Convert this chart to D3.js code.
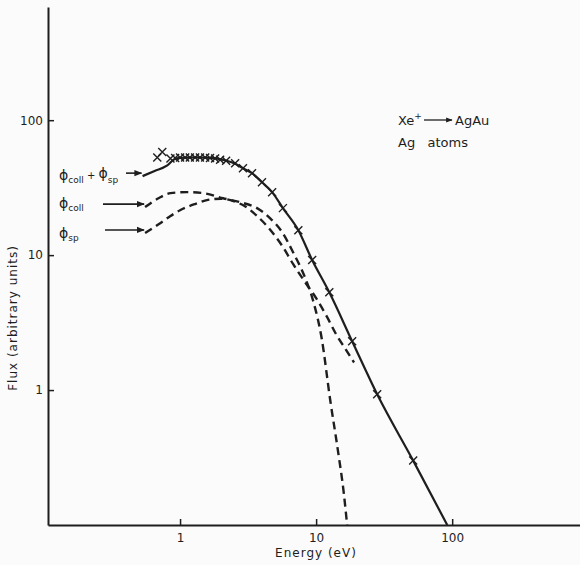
<!DOCTYPE html>
<html>
<head>
<meta charset="utf-8">
<script src="https://cdn.jsdelivr.net/npm/d3@7"></script>
<style>
  body { margin: 0; background: #fbfbfb; }
  text { font-family: "DejaVu Sans", sans-serif; fill: #1e1e1e; }
</style>
</head>
<body>
<div id="chart"></div>
<script>
// Total flux (solid line)
const totalE = [0.53, 0.65, 0.8, 0.9, 1.0, 1.3, 1.7, 2.2, 2.54, 2.9, 3.38, 4.0, 4.75, 5.7, 7.4, 9.35, 12.5, 18.4, 28.1, 51.7, 92];
const totalF = [38.5, 42, 46, 51, 52.5, 53, 52.5, 50, 47.5, 44, 40.5, 34.7, 29.3, 22.3, 15.3, 9.2, 5.3, 2.3, 0.93, 0.30, 0.1];

// Measured points (crosses)
const crossE = [0.68, 0.74, 0.85, 0.92, 1.0, 1.09, 1.18, 1.29, 1.40, 1.53, 1.66, 1.81, 1.97, 2.18, 2.54, 2.9, 3.38, 4.0, 4.75, 5.7, 7.4, 9.35, 12.5, 18.4, 28.1, 51.7];
const crossF = [53, 58, 52, 52.5, 53, 53, 53, 53, 53, 53, 52.5, 52, 51, 50, 48, 44, 40.5, 34.7, 29.3, 22.3, 15.3, 9.2, 5.3, 2.3, 0.93, 0.30];

// Collisional component (dashed)
const collE = [0.553, 0.7, 0.85, 1.13, 1.48, 2.07, 2.76, 3.68, 4.58, 5.7, 6.77, 8.3, 9.5, 11, 12.7, 14.5, 16, 16.9];
const collF = [22.7, 26.5, 28.8, 29.3, 28.8, 26.4, 24.7, 22.3, 18.8, 14.5, 10.5, 6.8, 4.6, 2.4, 0.84, 0.35, 0.17, 0.1];

// Sputtered component (dashed)
const spE = [0.553, 0.7, 0.85, 1.0, 1.3, 1.6, 2.0, 2.5, 3.0, 3.68, 4.58, 5.7, 6.77, 8.3, 10, 12, 14, 16.5, 19];
const spF = [14.6, 17, 19.5, 21.5, 24, 25.7, 26.2, 25, 23, 19.5, 15.5, 11.5, 8.6, 6.3, 4.8, 3.5, 2.6, 2.0, 1.6];

const xTicks = [1, 10, 100];
const yTicks = [1, 10, 100];

const W = 580, H = 565;
const ink = '#1e1e1e';

const svg = d3.select('#chart').append('svg')
  .attr('width', W)
  .attr('height', H);

svg.append('rect').attr('width', W).attr('height', H).attr('fill', '#fbfbfb');

const x = d3.scaleLog().domain([0.107, 870]).range([48, 580]);
const y = d3.scaleLog().domain([0.1, 690]).range([525, 7]);

svg.append('defs').append('marker')
  .attr('id', 'arr')
  .attr('viewBox', '0 0 10 10')
  .attr('refX', 9).attr('refY', 5)
  .attr('markerWidth', 5).attr('markerHeight', 5)
  .attr('markerUnits', 'strokeWidth')
  .attr('orient', 'auto')
  .append('path').attr('d', 'M0,1 L10,5 L0,9 Z').attr('fill', ink);

// Axes
const yAxis = svg.append('g')
  .attr('transform', `translate(${x.range()[0]},0)`)
  .call(d3.axisLeft(y).tickValues(yTicks).tickFormat(d3.format('d')).tickSize(-6).tickSizeOuter(0).tickPadding(5));

const xAxis = svg.append('g')
  .attr('transform', `translate(0,${y.range()[0]})`)
  .call(d3.axisBottom(x).tickValues(xTicks).tickFormat(d3.format('d')).tickSize(-6).tickSizeOuter(0).tickPadding(8));

[xAxis, yAxis].forEach(g => {
  g.select('.domain').attr('stroke', ink).attr('stroke-width', 2);
  g.selectAll('.tick line').attr('stroke', ink).attr('stroke-width', 1.5);
  g.selectAll('.tick text').attr('font-size', 12).attr('fill', ink)
    .style('font-family', '"DejaVu Sans", sans-serif');
});

// Curves
const line = d3.line()
  .x(d => x(d[0]))
  .y(d => y(d[1]))
  .curve(d3.curveMonotoneX);

svg.append('path')
  .datum(collE.map((e, i) => [e, collF[i]]))
  .attr('d', line)
  .attr('fill', 'none').attr('stroke', ink)
  .attr('stroke-width', 2.4).attr('stroke-dasharray', '8,5');

svg.append('path')
  .datum(spE.map((e, i) => [e, spF[i]]))
  .attr('d', line)
  .attr('fill', 'none').attr('stroke', ink)
  .attr('stroke-width', 2.4).attr('stroke-dasharray', '8,5');

svg.append('path')
  .datum(totalE.map((e, i) => [e, totalF[i]]))
  .attr('d', line)
  .attr('fill', 'none').attr('stroke', ink)
  .attr('stroke-width', 2.2);

// Crosses
const cs = 4;
svg.append('g').selectAll('path')
  .data(crossE.map((e, i) => [e, crossF[i]]))
  .join('path')
  .attr('d', d => {
    const cx = x(d[0]), cy = y(d[1]);
    return `M${cx - cs},${cy - cs}L${cx + cs},${cy + cs}M${cx - cs},${cy + cs}L${cx + cs},${cy - cs}`;
  })
  .attr('stroke', ink).attr('stroke-width', 1.4).attr('fill', 'none');

// Curve labels with arrows
const labels = [
  { parts: [['ϕ', 0], ['coll', 1], [' + ', 2], ['ϕ', 0], ['sp', 1]], tx: 59, ty: 180, ax0: 126, e: totalE[0], f: totalF[0] },
  { parts: [['ϕ', 0], ['coll', 1]], tx: 59, ty: 208, ax0: 103, e: collE[0], f: collF[0] },
  { parts: [['ϕ', 0], ['sp', 1]], tx: 59, ty: 238, ax0: 105, e: spE[0], f: spF[0] }
];

labels.forEach(l => {
  const t = svg.append('text').attr('x', l.tx).attr('y', l.ty);
  let base = 0;
  l.parts.forEach((p, i) => {
    const target = p[1] === 1 ? 3 : (p[1] === 2 ? -1 : -2);
    t.append('tspan')
      .attr('font-size', p[1] === 1 ? 9 : (p[1] === 2 ? 10 : 14))
      .attr('dy', i === 0 ? 0 : target - base)
      .text(p[0]);
    if (i === 0) base = 0; else base = target;
    if (i === 0) base = 0;
  });
  const ay = y(l.f) - 3;
  svg.append('line')
    .attr('x1', l.ax0).attr('x2', x(l.e) - 1)
    .attr('y1', ay).attr('y2', ay)
    .attr('stroke', ink).attr('stroke-width', 1.6)
    .attr('marker-end', 'url(#arr)');
});

// Annotation
const ann = svg.append('text').attr('x', 398).attr('y', 125).attr('font-size', 13);
ann.append('tspan').text('Xe');
ann.append('tspan').attr('font-size', 9).attr('dy', -6).text('+');
svg.append('line')
  .attr('x1', 424).attr('x2', 452).attr('y1', 120).attr('y2', 120)
  .attr('stroke', ink).attr('stroke-width', 1.3)
  .attr('marker-end', 'url(#arr)');
svg.append('text').attr('x', 455).attr('y', 125).attr('font-size', 13).text('AgAu');
svg.append('text').attr('x', 398).attr('y', 147).attr('font-size', 13)
  .attr('xml:space', 'preserve').text('Ag   atoms');

// Axis titles
svg.append('text')
  .attr('x', 316).attr('y', 557)
  .attr('text-anchor', 'middle')
  .attr('font-size', 12)
  .attr('letter-spacing', 1)
  .text('Energy (eV)');

svg.append('text')
  .attr('transform', 'translate(17,318) rotate(-90)')
  .attr('text-anchor', 'middle')
  .attr('font-size', 12)
  .attr('letter-spacing', 1)
  .text('Flux (arbitrary units)');
</script>
</body>
</html>
